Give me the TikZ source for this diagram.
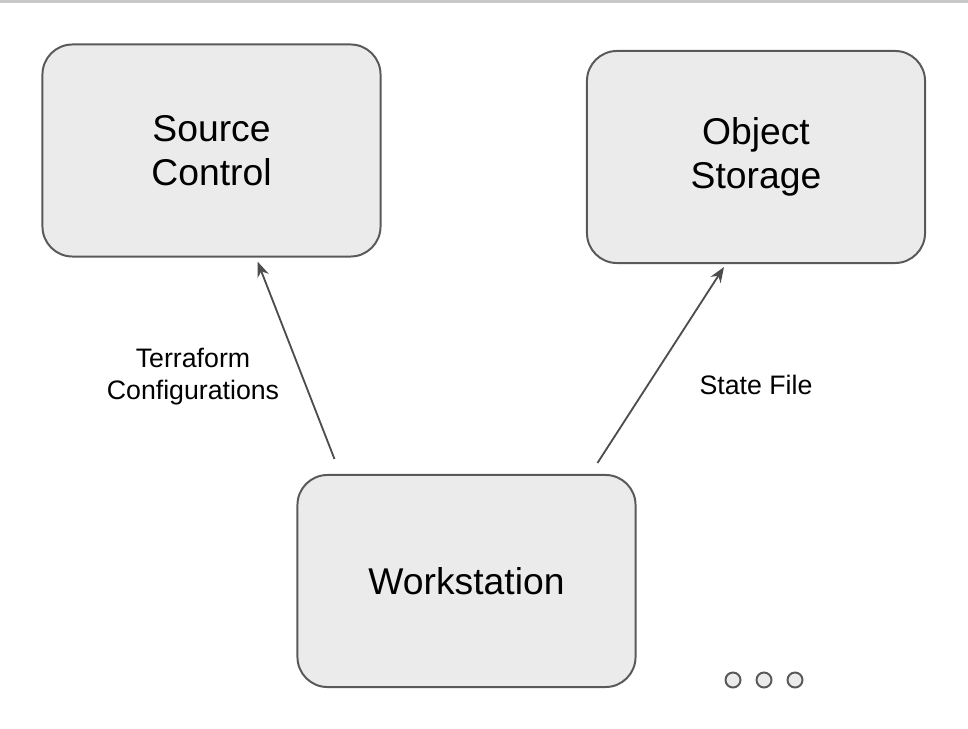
\documentclass[tikz,border=0pt]{standalone}
\usepackage{fontspec}
\setmainfont{Liberation Sans}
\usepackage{tikz}
\usetikzlibrary{
    positioning,
    arrows.meta,
    calc
}
\definecolor{boxFill}{RGB}{235, 235, 235}
\definecolor{boxLine}{RGB}{89, 89, 89}
\definecolor{linkGray}{RGB}{77, 77, 77}
\definecolor{ruleGray}{RGB}{200, 200, 200}

\tikzset{
    block/.style={draw=boxLine, fill=boxFill, line width=1.4pt, rounded corners=0.75cm,
        minimum width=8.45cm, minimum height=5.3cm, align=center,
        font=\fontsize{26.5}{31.3}\selectfont},
    link/.style={draw=linkGray, line width=1.3pt, -{Stealth[length=11pt, width=8.5pt]}},
    tag/.style={align=center, font=\fontsize{19}{22.8}\selectfont},
    pip/.style={circle, draw=boxLine, fill=boxFill, line width=1.4pt,
        minimum size=0.375cm, inner sep=0pt}
}

\begin{document}
\begin{tikzpicture}[x=0.025cm, y=-0.025cm]
        \useasboundingbox (0,0) rectangle (968,729);
        \draw[ruleGray, line width=1.5pt] (0,1.5) -- (968,1.5);

        \node[block] (sc) at (211.5,150.5) {Source\\Control};
        \node[block] (os) at (756,157) {Object\\Storage};
        \node[block] (ws) at (466.5,581) {Workstation};

        \coordinate (wsL) at ($(ws.north west)+(38,-15)$);
        \coordinate (wsR) at ($(ws.north west)+(301,-11)$);

        \draw[link] (wsL) -- ($(sc.south)+(46,4)$);
        \draw[link] (wsR) -- ($(os.south)+(-32,3)$);

        \node[tag] (cfg) at (193,377) {Terraform\\Configurations};
        \node[tag] (state) at (756,385) {State File};

        \foreach \i/\x in {1/733, 2/764, 3/795}
            \node[pip] (dot\i) at (\x,680) {};
    \end{tikzpicture}
\end{document}
